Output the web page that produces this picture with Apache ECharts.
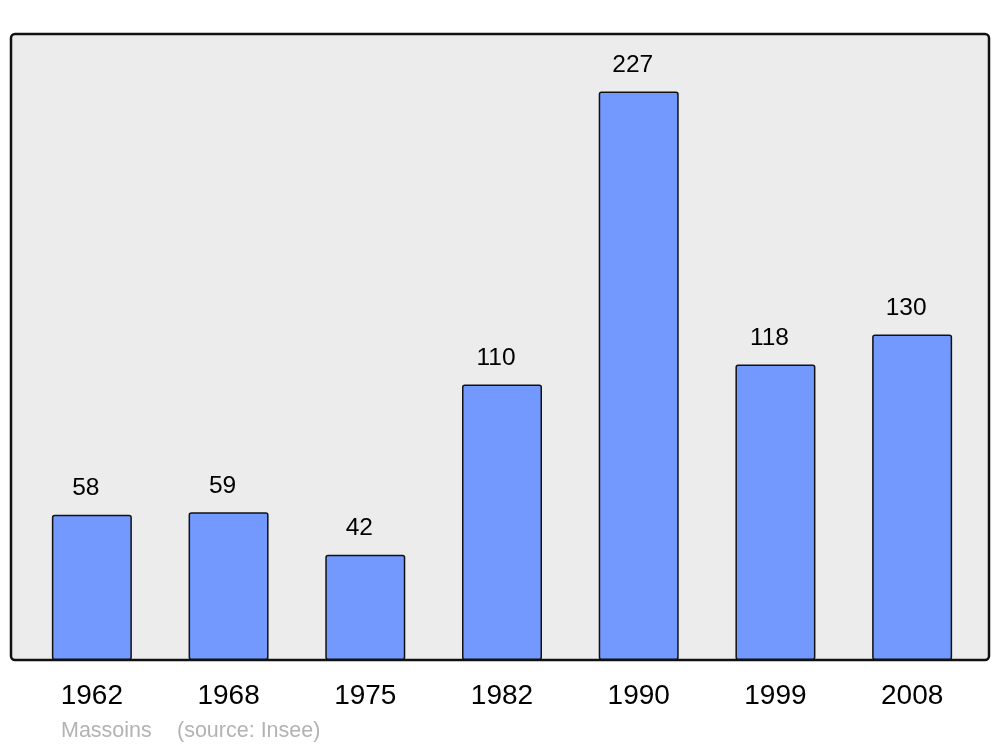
<!DOCTYPE html>
<html>
<head>
<meta charset="utf-8">
<script src="https://cdn.jsdelivr.net/npm/echarts@6/dist/echarts.min.js"></script>
<style>
html,body{margin:0;padding:0;background:#fff;}
#main{width:1000px;height:747px;}
</style>
</head>
<body>
<div id="main"></div>
<script>
const years = ['1962', '1968', '1975', '1982', '1990', '1999', '2008'];
const population = [58, 59, 42, 110, 227, 118, 130];
const placeName = 'Massoins';
const sourceText = '(source: Insee)';

const chart = echarts.init(document.getElementById('main'), null, {renderer: 'canvas'});
chart.setOption({
  animation: false,
  backgroundColor: '#ffffff',
  graphic: [
    {
      type: 'rect', z: -10, silent: true,
      shape: {x: 11, y: 34, width: 978, height: 626, r: 4},
      style: {fill: '#ececec', stroke: '#111111', lineWidth: 2.5}
    },
    {
      type: 'text', left: 61, top: 720, silent: true,
      style: {text: placeName, fill: '#b3b3b3', font: '21.5px "Liberation Sans", Arial, sans-serif'}
    },
    {
      type: 'text', left: 177, top: 720, silent: true,
      style: {text: sourceText, fill: '#b3b3b3', font: '21.5px "Liberation Sans", Arial, sans-serif'}
    }
  ],
  grid: {left: 23.5, width: 957, top: 34, bottom: 87, containLabel: false},
  xAxis: {
    type: 'category',
    data: years,
    axisLine: {show: false},
    axisTick: {show: false},
    axisLabel: {
      margin: 22,
      offset: [-1.5, 0],
      color: '#000',
      fontSize: 28,
      fontFamily: '"Liberation Sans", Arial, sans-serif'
    }
  },
  yAxis: {
    type: 'value',
    min: 0, max: 250,
    show: false,
    splitLine: {show: false}
  },
  series: [{
    type: 'bar',
    data: population,
    barWidth: 80,
    itemStyle: {
      color: '#7399ff',
      borderColor: '#111111',
      borderWidth: 1.5,
      borderRadius: 2
    },
    label: {
      show: true,
      position: 'top',
      distance: 14,
      offset: [-6, 0],
      color: '#000',
      fontSize: 24.5,
      fontFamily: '"Liberation Sans", Arial, sans-serif'
    }
  }]
});
</script>
</body>
</html>
